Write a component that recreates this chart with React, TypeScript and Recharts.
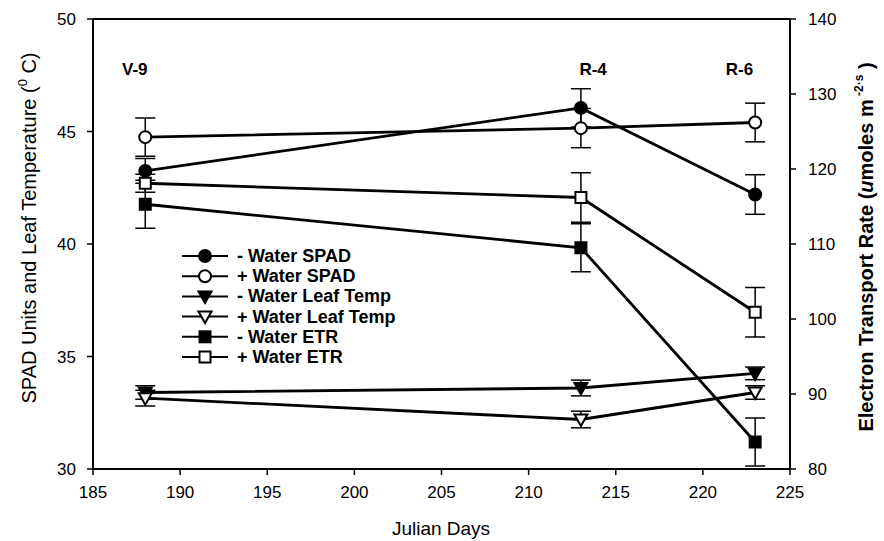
import React from 'react';
import { LineChart, Line, XAxis, YAxis, ErrorBar, ReferenceDot, ReferenceLine, Legend } from 'recharts';

const days = [188, 213, 223];
const spadMinus = [43.25, 46.05, 42.2];
const spadMinusErr = [0.55, 0.85, 0.88];
const spadPlus = [44.75, 45.15, 45.4];
const spadPlusErr = [0.85, 0.87, 0.86];
const leafMinus = [33.4, 33.6, 34.25];
const leafMinusErr = [0.3, 0.35, 0.28];
const leafPlus = [33.15, 32.2, 33.4];
const leafPlusErr = [0.35, 0.37, 0.3];
const etrMinus = [115.3, 109.5, 83.6];
const etrMinusErr = [3.2, 3.2, 3.2];
const etrPlus = [118.1, 116.2, 100.9];
const etrPlusErr = [1.2, 3.3, 3.3];

const xTicks = [185, 190, 195, 200, 205, 210, 215, 220, 225];
const leftTicks = [30, 35, 40, 45, 50];
const rightTicks = [80, 90, 100, 110, 120, 130, 140];

const stageLabels = ['V-9', 'R-4', 'R-6'];
const stageX = [187.4, 213.7, 222.1];
const stageY = 47.8;

const legendNames = [
  '- Water SPAD',
  '+ Water SPAD',
  '- Water Leaf Temp',
  '+ Water Leaf Temp',
  '- Water ETR',
  '+ Water ETR',
];

const FONT = '"Liberation Sans", Arial, Helvetica, sans-serif';

const data = days.map((d, i) => ({
  day: d,
  spadMinus: spadMinus[i],
  spadMinusErr: spadMinusErr[i],
  spadPlus: spadPlus[i],
  spadPlusErr: spadPlusErr[i],
  leafMinus: leafMinus[i],
  leafMinusErr: leafMinusErr[i],
  leafPlus: leafPlus[i],
  leafPlusErr: leafPlusErr[i],
  etrMinus: etrMinus[i],
  etrMinusErr: etrMinusErr[i],
  etrPlus: etrPlus[i],
  etrPlusErr: etrPlusErr[i],
}));

type Shape = 'circle' | 'triangle' | 'square';

function marker(shape: Shape, filled: boolean, cx: number, cy: number, k?: any) {
  const fill = filled ? '#000' : '#fff';
  if (shape === 'circle') {
    return <circle key={k} cx={cx} cy={cy} r={6} fill={fill} stroke="#000" strokeWidth={2} />;
  }
  if (shape === 'square') {
    return <rect key={k} x={cx - 5.5} y={cy - 5.5} width={11} height={11} fill={fill} stroke="#000" strokeWidth={2} />;
  }
  return (
    <path
      key={k}
      d={`M${cx - 6.5},${cy - 5} L${cx + 6.5},${cy - 5} L${cx},${cy + 6.5} Z`}
      fill={fill}
      stroke="#000"
      strokeWidth={2}
      strokeLinejoin="miter"
    />
  );
}

const makeDot = (shape: Shape, filled: boolean) => (props: any) => {
  const { cx, cy, index } = props;
  if (cx == null || cy == null) return <g key={`n${index}`} />;
  return marker(shape, filled, cx, cy, `${shape}${filled}${index}`);
};

const legendShapes: Shape[] = ['circle', 'circle', 'triangle', 'triangle', 'square', 'square'];
const legendFilled = [true, false, true, false, true, false];

const LegendBox = () => (
  <svg width={260} height={130} style={{ overflow: 'visible' }}>
    {legendNames.map((name, i) => {
      const y = 10 + i * 20.2;
      return (
        <g key={name}>
          <line x1={2} x2={48} y1={y} y2={y} stroke="#000" strokeWidth={2} />
          {marker(legendShapes[i], legendFilled[i], 25, y)}
          <text x={57} y={y + 6} fontSize={18} fontWeight="bold" fontFamily={FONT} fill="#000">
            {name}
          </text>
        </g>
      );
    })}
  </svg>
);

const LeftTitle = () => (
  <text
    x={36}
    y={228}
    transform="rotate(-90 36 228)"
    textAnchor="middle"
    fontSize={20}
    fontFamily={FONT}
    fill="#000"
  >
    SPAD Units and Leaf Temperature (
    <tspan fontSize={13} dy={-9}>0</tspan>
    <tspan dy={9}> C)</tspan>
  </text>
);

const RightTitle = () => (
  <text
    x={873}
    y={247}
    transform="rotate(-90 873 247)"
    textAnchor="middle"
    fontSize={20}
    fontFamily={FONT}
    fontWeight="bold"
    fill="#000"
  >
    Electron Transport Rate (
    <tspan fontStyle="italic">u</tspan>
    moles m
    <tspan fontSize={12} dy={-10}> -2·s</tspan>
    <tspan dy={10}>  )</tspan>
  </text>
);

const BottomTitle = () => (
  <text x={441} y={535} textAnchor="middle" fontSize={19} fontFamily={FONT} fill="#000">
    Julian Days
  </text>
);

const stageLabelRenderer = (text: string) => (props: any) => {
  const vb = props.viewBox || {};
  const cx = vb.cx ?? vb.x;
  const cy = vb.cy ?? vb.y;
  return (
    <text x={cx} y={cy + 6} textAnchor="middle" fontSize={17} fontWeight="bold" fontFamily={FONT} fill="#000">
      {text}
    </text>
  );
};

const tickStyle = { fill: '#000', fontSize: 17, fontFamily: FONT };

export default function App() {
  return (
    <div style={{ position: 'absolute', left: 0, top: 0, width: 884, height: 541, background: '#fff' }}>
      <LineChart width={884} height={541} data={data} margin={{ top: 19, right: 0, bottom: 0, left: 0 }}>
        <XAxis
          dataKey="day"
          type="number"
          domain={[185, 225]}
          ticks={xTicks}
          height={72}
          tickSize={6}
          tickMargin={11}
          axisLine={{ stroke: '#000', strokeWidth: 2 }}
          tickLine={{ stroke: '#000', strokeWidth: 1.5 }}
          tick={tickStyle}
          label={<BottomTitle />}
        />
        <YAxis
          yAxisId="left"
          domain={[30, 50]}
          ticks={leftTicks}
          width={93}
          tickSize={6}
          tickMargin={11}
          axisLine={{ stroke: '#000', strokeWidth: 2 }}
          tickLine={{ stroke: '#000', strokeWidth: 1.5 }}
          tick={tickStyle}
          label={<LeftTitle />}
        />
        <YAxis
          yAxisId="right"
          orientation="right"
          domain={[80, 140]}
          ticks={rightTicks}
          width={94}
          tickSize={6}
          tickMargin={12}
          axisLine={{ stroke: '#000', strokeWidth: 2 }}
          tickLine={{ stroke: '#000', strokeWidth: 1.5 }}
          tick={tickStyle}
          label={<RightTitle />}
        />
        <ReferenceLine yAxisId="left" y={50} stroke="#000" strokeWidth={2} />

        <Line yAxisId="left" dataKey="spadMinus" stroke="#000" strokeWidth={2.8} isAnimationActive={false} dot={makeDot('circle', true)} activeDot={false}>
          <ErrorBar dataKey="spadMinusErr" width={10} stroke="#000" strokeWidth={1.5} />
        </Line>
        <Line yAxisId="left" dataKey="spadPlus" stroke="#000" strokeWidth={2.8} isAnimationActive={false} dot={makeDot('circle', false)} activeDot={false}>
          <ErrorBar dataKey="spadPlusErr" width={10} stroke="#000" strokeWidth={1.5} />
        </Line>
        <Line yAxisId="left" dataKey="leafMinus" stroke="#000" strokeWidth={2.8} isAnimationActive={false} dot={makeDot('triangle', true)} activeDot={false}>
          <ErrorBar dataKey="leafMinusErr" width={10} stroke="#000" strokeWidth={1.5} />
        </Line>
        <Line yAxisId="left" dataKey="leafPlus" stroke="#000" strokeWidth={2.8} isAnimationActive={false} dot={makeDot('triangle', false)} activeDot={false}>
          <ErrorBar dataKey="leafPlusErr" width={10} stroke="#000" strokeWidth={1.5} />
        </Line>
        <Line yAxisId="right" dataKey="etrMinus" stroke="#000" strokeWidth={2.8} isAnimationActive={false} dot={makeDot('square', true)} activeDot={false}>
          <ErrorBar dataKey="etrMinusErr" width={10} stroke="#000" strokeWidth={1.5} />
        </Line>
        <Line yAxisId="right" dataKey="etrPlus" stroke="#000" strokeWidth={2.8} isAnimationActive={false} dot={makeDot('square', false)} activeDot={false}>
          <ErrorBar dataKey="etrPlusErr" width={10} stroke="#000" strokeWidth={1.5} />
        </Line>

        {stageLabels.map((s, i) => (
          <ReferenceDot
            key={s}
            yAxisId="left"
            x={stageX[i]}
            y={stageY}
            r={0}
            fill="none"
            stroke="none"
            label={stageLabelRenderer(s)}
          />
        ))}

        <Legend
          layout="vertical"
          align="center"
          verticalAlign="middle"
          wrapperStyle={{ left: 180, top: 246, width: 260, height: 130 }}
          content={() => <LegendBox />}
        />
      </LineChart>
    </div>
  );
}
